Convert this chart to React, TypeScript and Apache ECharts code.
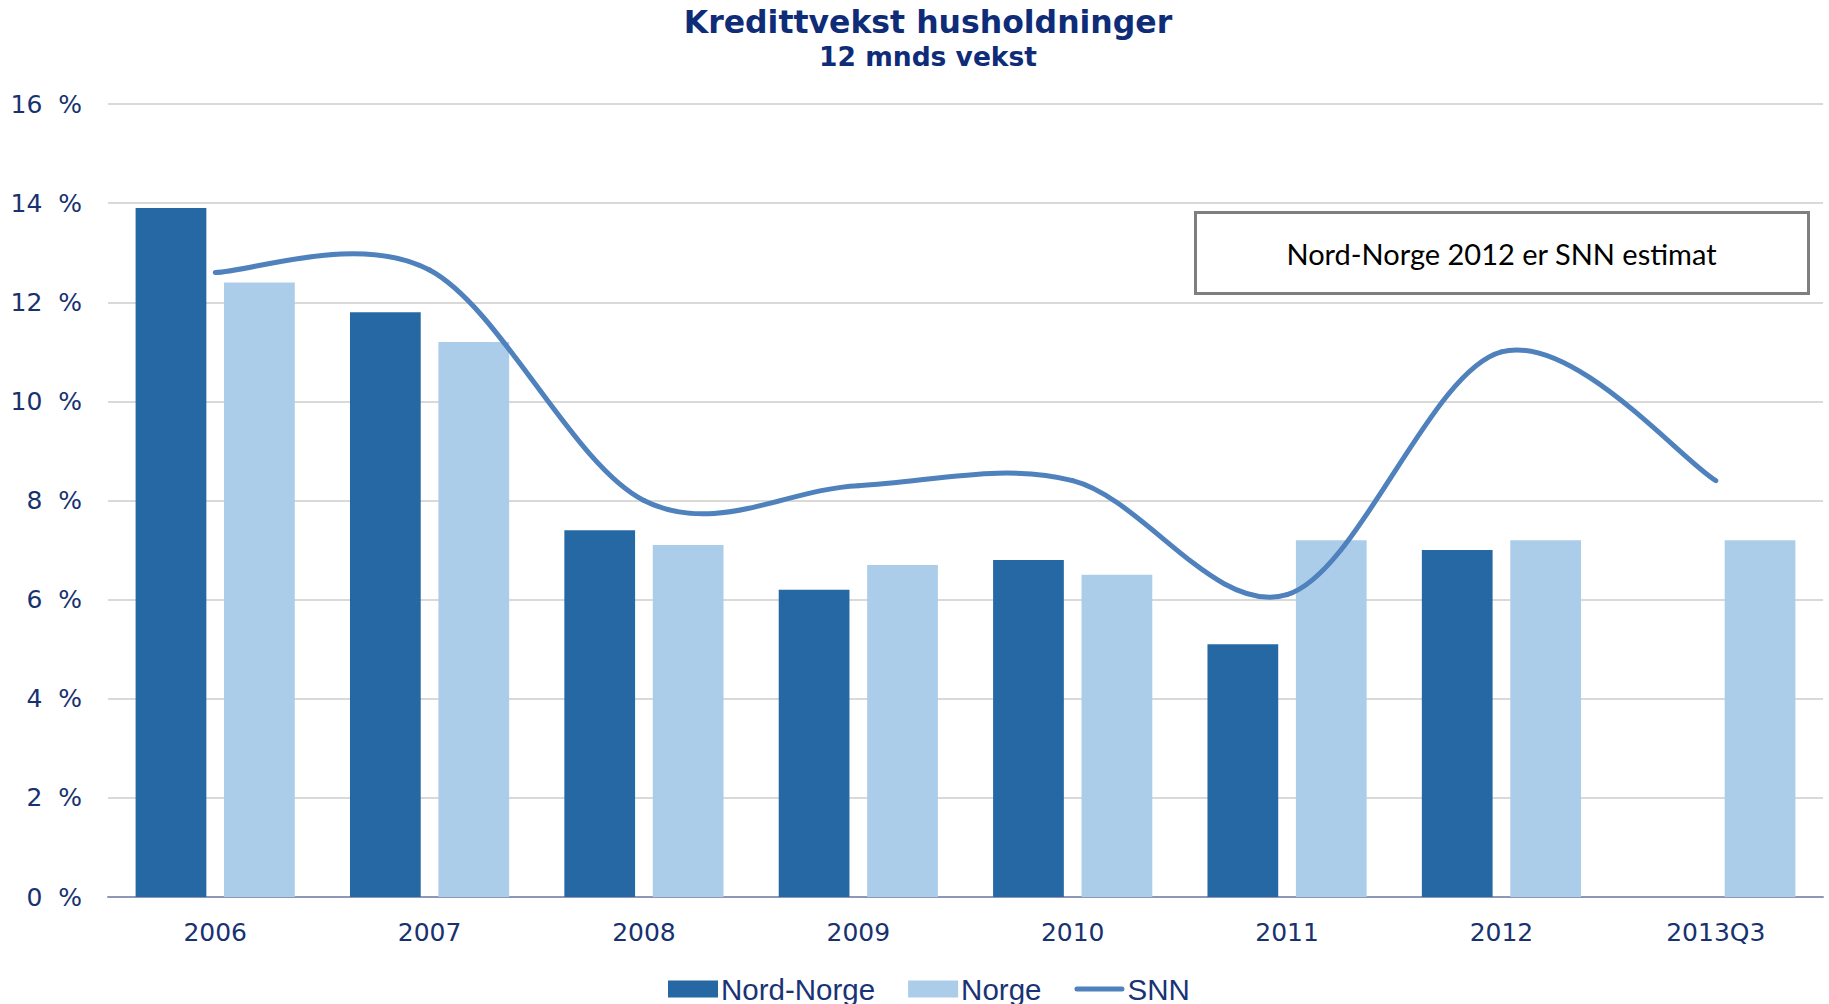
import React, { useEffect, useRef } from "react";
import * as echarts from "echarts";

const categories = ["2006", "2007", "2008", "2009", "2010", "2011", "2012", "2013Q3"];
const nordNorge: (number | null)[] = [13.9, 11.8, 7.4, 6.2, 6.8, 5.1, 7.0, null];
const norge = [12.4, 11.2, 7.1, 6.7, 6.5, 7.2, 7.2, 7.2];
const snn = [12.6, 12.65, 8.0, 8.3, 8.4, 6.1, 11.0, 8.4];
const yTicks = { min: 0, max: 16, interval: 2 };
const titleText = "Kredittvekst husholdninger";
const subtitleText = "12 mnds vekst";
const noteText = "Nord-Norge 2012 er SNN estimat";

const lineColor = "#4F81BD";

export default function App() {
  const ref = useRef<HTMLDivElement>(null);
  useEffect(() => {
    document.body.style.margin = "0";
    const chart = echarts.init(ref.current!, null, { renderer: "svg" });
    const navy = "#0E2C78";
    const last = snn.length - 1;
    chart.setOption({
      animation: false,
      backgroundColor: "#ffffff",
      title: [
        {
          text: titleText,
          left: 923,
          textAlign: "center",
          top: 1,
          textStyle: { fontFamily: "DejaVu Sans", fontWeight: "bold", fontSize: 31.5, color: navy },
        },
        {
          text: subtitleText,
          left: 923,
          textAlign: "center",
          top: 38,
          textStyle: { fontFamily: "DejaVu Sans", fontWeight: "bold", fontSize: 26.5, color: navy },
        },
      ],
      legend: {
        bottom: -5,
        left: 663,
        itemWidth: 50,
        itemHeight: 17,
        itemGap: 33,
        textStyle: { fontFamily: "Liberation Sans", fontSize: 29.5, color: "#1A3375", padding: [0, 0, 0, -2] },
        data: [
          { name: "Nord-Norge", icon: "rect" },
          { name: "Norge", icon: "rect" },
          { name: "SNN", icon: "path://M5,0L95,0A5,5 0 0 1 95,10L5,10A5,5 0 0 1 5,0Z" },
        ],
      },
      grid: { left: 108, right: 6, top: 104, bottom: 107, containLabel: false },
      xAxis: {
        type: "category",
        data: categories,
        axisLine: { show: true, lineStyle: { color: "#8E98B5", width: 2 } },
        axisTick: { show: false },
        axisLabel: { fontFamily: "DejaVu Sans", fontSize: 25, color: "#17326F", margin: 23 },
      },
      yAxis: {
        type: "value",
        min: yTicks.min,
        max: yTicks.max,
        interval: yTicks.interval,
        axisLine: { show: false },
        axisTick: { show: false },
        axisLabel: {
          formatter: "{value}  %",
          fontFamily: "DejaVu Sans",
          fontSize: 25,
          color: "#17326F",
          margin: 26,
        },
        splitLine: { lineStyle: { color: "#D9D9D9", width: 2 } },
      },
      series: [
        {
          name: "Nord-Norge",
          type: "bar",
          data: nordNorge,
          barWidth: "33%",
          barGap: "25%",
          itemStyle: { color: "#2568A4" },
        },
        {
          name: "Norge",
          type: "bar",
          data: norge,
          barWidth: "33%",
          itemStyle: { color: "#ABCDEA" },
        },
        {
          name: "SNN",
          type: "custom",
          data: snn.map((v, i) => [i, v]),
          encode: { x: 0, y: 1 },
          itemStyle: { color: lineColor },
          z: 5,
          renderItem: (params: any, api: any) => {
            const i = params.dataIndex;
            if (i >= last) return { type: "group", children: [] };
            const pt = (k: number) => {
              const kk = Math.max(0, Math.min(last, k));
              return api.coord([kk, snn[kk]]);
            };
            const p0 = pt(i - 1);
            const p1 = pt(i);
            const p2 = pt(i + 1);
            const p3 = pt(i + 2);
            const t = 1 / 6;
            return {
              type: "bezierCurve",
              shape: {
                x1: p1[0],
                y1: p1[1],
                cpx1: p1[0] + (p2[0] - p0[0]) * t,
                cpy1: p1[1] + (p2[1] - p0[1]) * t,
                cpx2: p2[0] - (p3[0] - p1[0]) * t,
                cpy2: p2[1] - (p3[1] - p1[1]) * t,
                x2: p2[0],
                y2: p2[1],
              },
              style: { stroke: lineColor, lineWidth: 5, fill: null, lineCap: "round" },
            };
          },
        },
      ],
      graphic: [
        {
          type: "group",
          left: 1194,
          top: 211,
          children: [
            {
              type: "rect",
              shape: { x: 0, y: 0, width: 613, height: 81 },
              style: { fill: "#ffffff", stroke: "#7F7F7F", lineWidth: 3 },
            },
            {
              type: "text",
              x: 306,
              y: 41,
              style: {
                text: noteText,
                fontFamily: "Lato",
                fontSize: 29,
                fill: "#000000",
                textAlign: "center",
                textVerticalAlign: "middle",
              },
            },
          ],
        },
      ],
    });
    return () => chart.dispose();
  }, []);
  return <div ref={ref} style={{ width: 1829, height: 1004 }} />;
}
